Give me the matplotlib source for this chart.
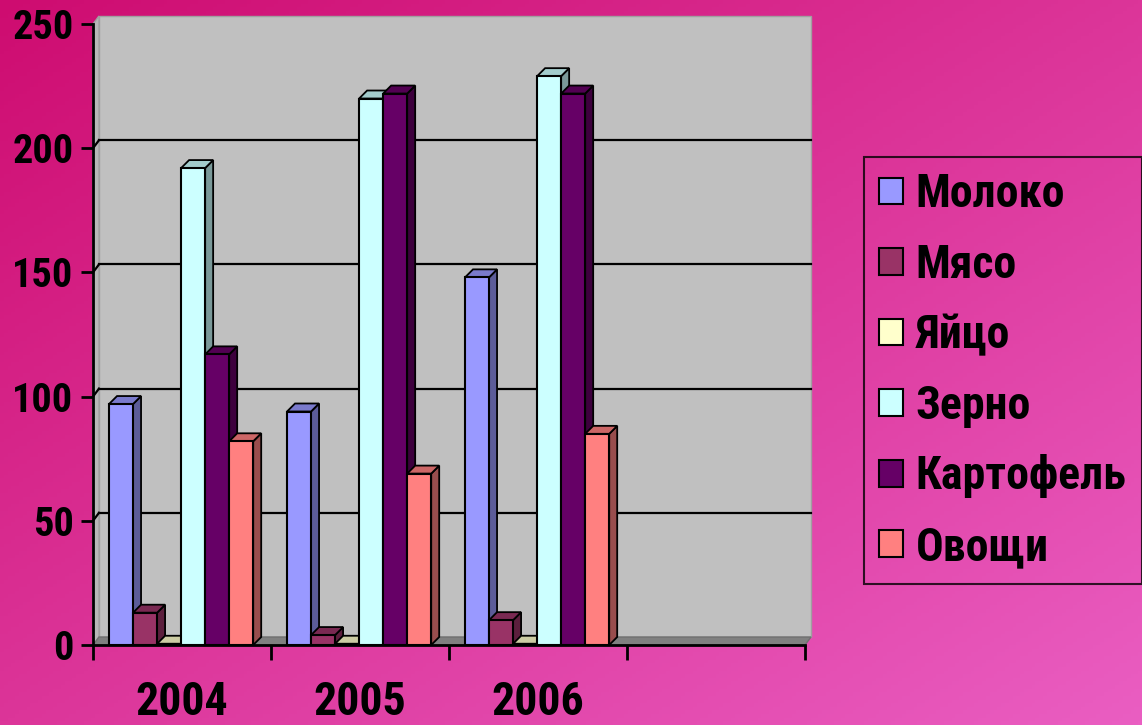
import numpy as np
import matplotlib.pyplot as plt
from matplotlib import font_manager
from matplotlib.patches import Polygon, Patch

years = ['2004', '2005', '2006']
products = ['Молоко', 'Мясо', 'Яйцо', 'Зерно', 'Картофель', 'Овощи']

milk = [97, 94, 148]
meat = [13, 4, 10]
eggs = [0.5, 0.5, 0.5]
grain = [192, 220, 229]
potato = [117, 222, 222]
veg = [82, 69, 85]
values = [milk, meat, eggs, grain, potato, veg]

face_col = ['#9999FF', '#993366', '#FFFFCC', '#CCFFFF', '#660066', '#FF8080']
side_col = ['#5C5C99', '#5C1F3D', '#99997A', '#7A9999', '#3D003D', '#994D4D']
top_col = ['#7A7ACC', '#7A2952', '#CCCCA3', '#A3CCCC', '#520052', '#CC6666']

# narrow font if one is there, else Arial-like bold at a smaller size
names = {f.name for f in font_manager.fontManager.ttflist}
narrow = [n for n in ['Liberation Sans Narrow', 'Arial Narrow', 'Roboto Condensed', 'Open Sans Condensed']
          if n in names]
if narrow:
    plt.rcParams['font.family'] = [narrow[0], 'DejaVu Sans']
    ysize, xsize, lsize = 29, 33, 33
else:
    plt.rcParams['font.family'] = ['Liberation Sans', 'DejaVu Sans']
    ysize, xsize, lsize = 26, 29, 29
plt.rcParams['font.weight'] = 'bold'

fig = plt.figure(figsize=(11.42, 7.25), dpi=100)

# pink gradient background
bg = fig.add_axes([0, 0, 1, 1], zorder=-10)
gx, gy = np.meshgrid(np.linspace(0, 1, 300), np.linspace(0, 1, 200))
t = (gx * 0.5 + gy * 0.5)
c0 = np.array([206, 12, 112]) / 255.0
c1 = np.array([234, 94, 194]) / 255.0
img = c0[None, None, :] * (1 - t[..., None]) + c1[None, None, :] * t[..., None]
bg.imshow(img, aspect='auto', extent=[0, 1, 0, 1], origin='upper')
bg.axis('off')

W, H = 1142, 725
left, right, top, bottom = 93, 805, 24, 645
ax = fig.add_axes([left / W, 1 - bottom / H, (right - left) / W, (bottom - top) / H])
ax.set_xlim(0, 4)
ax.set_ylim(0, 250)
ax.patch.set_visible(False)

px_x = (right - left) / 4.0
px_y = (bottom - top) / 250.0
wdx, wdy = 6 / px_x, 8 / px_y      # wall depth
bdx, bdy = 8 / px_x, 8 / px_y      # bar depth

# back wall, left wall, floor
ax.add_patch(Polygon([(wdx, wdy), (4 + wdx, wdy), (4 + wdx, 250 + wdy), (wdx, 250 + wdy)],
                     closed=True, fc='#C0C0C0', ec='#A0A0A0', lw=1, clip_on=False, zorder=0))
ax.add_patch(Polygon([(0, 0), (wdx, wdy), (wdx, 250 + wdy), (0, 250)],
                     closed=True, fc='#B8B8B8', ec='#A0A0A0', lw=1, clip_on=False, zorder=0))
ax.add_patch(Polygon([(0, 0), (4, 0), (4 + wdx, wdy), (wdx, wdy)],
                     closed=True, fc='#808080', ec='#707070', lw=1, clip_on=False, zorder=1))

for v in [50, 100, 150, 200]:
    ax.plot([wdx, 4 + wdx], [v + wdy, v + wdy], color='black', lw=1.6, zorder=1, clip_on=False)
    ax.plot([0, wdx], [v, v + wdy], color='black', lw=1.6, zorder=1, clip_on=False)

# bars
w = 0.135
start = 0.09
for i, vals in enumerate(values):
    xs = np.arange(len(years)) + start + i * w
    z = 3 + 2 * i
    for x, h in zip(xs, vals):
        ax.add_patch(Polygon([(x + w, 0), (x + w + bdx, bdy), (x + w + bdx, h + bdy), (x + w, h)],
                             closed=True, fc=side_col[i], ec='black', lw=1.3, zorder=z, clip_on=False))
        ax.add_patch(Polygon([(x, h), (x + bdx, h + bdy), (x + w + bdx, h + bdy), (x + w, h)],
                             closed=True, fc=top_col[i], ec='black', lw=1.3, zorder=z, clip_on=False))
    ax.bar(xs, vals, width=w, align='edge', color=face_col[i], edgecolor='black',
           lw=1.5, zorder=z + 1, clip_on=False)

# axes
for s in ['top', 'right']:
    ax.spines[s].set_visible(False)
for s in ['left', 'bottom']:
    ax.spines[s].set_linewidth(2)
    ax.spines[s].set_zorder(20)
ax.set_yticks([0, 50, 100, 150, 200, 250])
ax.set_yticklabels(['0', '50', '100', '150', '200', '250'], fontsize=ysize, fontweight='bold')
ax.tick_params(axis='y', length=9, width=2, pad=5)
ax.set_xticks([0, 1, 2, 3, 4])
ax.set_xticklabels([])
ax.tick_params(axis='x', which='major', length=11, width=2)
ax.set_xticks([0.5, 1.5, 2.5], minor=True)
ax.set_xticklabels(years, minor=True, fontsize=xsize, fontweight='bold')
ax.tick_params(axis='x', which='minor', length=0, pad=25)

handles = [Patch(facecolor=face_col[i], edgecolor='black', lw=1.5) for i in range(len(products))]
leg = fig.legend(handles, products, loc='upper left', bbox_to_anchor=(864 / W, 1 - 157 / H),
                 bbox_transform=fig.transFigure, borderaxespad=0, frameon=True, fancybox=False,
                 prop={'size': lsize, 'weight': 'bold'}, handlelength=0.52, handleheight=0.52,
                 handletextpad=0.28, labelspacing=0.58, borderpad=0.33)
leg.get_frame().set_edgecolor('black')
leg.get_frame().set_facecolor('none')
leg.get_frame().set_linewidth(1.5)

fig.savefig('out.png', dpi=100)
